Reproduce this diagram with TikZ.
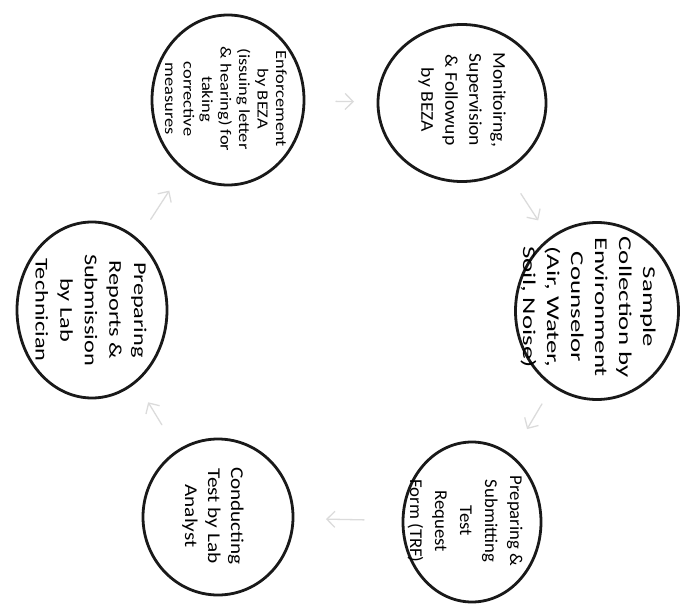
\documentclass[tikz,border=0pt]{standalone}
\usepackage{fontspec}
\setmainfont{Carlito}
\usetikzlibrary{shapes.geometric,arrows.meta}

\tikzset{
  stage/.style={ellipse, draw=black!90, line width=2.8pt, inner sep=0pt},
  stagetext/.style={rotate=-90, align=center, inner sep=0pt, font=\fontsize{18}{24}\selectfont},
  flow/.style={draw=black!14, line width=1.3pt, -{Straight Barb[length=8pt,width=16pt]},
    shorten <=108pt, shorten >=108pt},
}

\begin{document}
\begin{tikzpicture}[x=1pt, y=-1pt, line cap=round, line join=round]

  %% ════ circles (stages of the cycle) ════
  \node[stage, minimum width=152pt, minimum height=170pt] (enforce) at (228,100) {};
  \node[stage, minimum width=168pt, minimum height=157pt] (monitor) at (462,103) {};
  \node[stage, minimum width=163pt, minimum height=177pt] (sample)  at (597,311) {};
  \node[stage, minimum width=138pt, minimum height=160pt] (trf)     at (472,522) {};
  \node[stage, minimum width=150pt, minimum height=156pt] (conduct) at (218,517) {};
  \node[stage, minimum width=150pt, minimum height=176pt] (report)  at (92,310) {};

  %% ════ texts (turned a quarter clockwise, as scanned) ════
  \node[stagetext, font=\fontsize{15.5}{18.5}\selectfont, xscale=1.19] (enforce-t) at (226,99)
    {Enforcement\\by BEZA\\(issuing letter\\\& hearing) for\\taking\\corrective\\measures};
  \node[stagetext, xscale=1.09] (monitor-t) at (462,100)
    {Monitoirng,\\Supervision\\\& Followup\\by BEZA};
  \node[stagetext, xscale=1.49] (sample-t) at (588,307)
    {Sample\\Collection by\\Environment\\Counselor\\(Air, Water,\\Soil, Noise)};
  \node[stagetext, font=\fontsize{18}{25}\selectfont, xscale=1.04] (trf-t) at (465,521)
    {Preparing \&\\Submitting\\Test\\Request\\Form (TRF)};
  \node[stagetext, font=\fontsize{18}{23}\selectfont, xscale=1.18] (conduct-t) at (213,516)
    {Conducting\\Test by Lab\\Analyst};
  \node[stagetext, font=\fontsize{18}{24.6}\selectfont, xscale=1.35] (report-t) at (91,310)
    {Preparing\\Reports \&\\Submission\\by Lab\\Technician};

  %% ════ faint arrows between the stages ════
  \draw[flow] (monitor.center) -- (sample.center);
  \draw[flow] (sample.center) -- (trf.center);
  \draw[flow] (trf.center) -- (conduct.center);
  \draw[flow] (conduct.center) -- (report.center);
  \draw[flow] (report.center) -- (enforce.center);
  \draw[flow] (enforce.center) -- (monitor.center);

  % canvas size fixed to the scan
  \pgfresetboundingbox
  \path[use as bounding box] (0,0) rectangle (681,605);
\end{tikzpicture}
\end{document}
